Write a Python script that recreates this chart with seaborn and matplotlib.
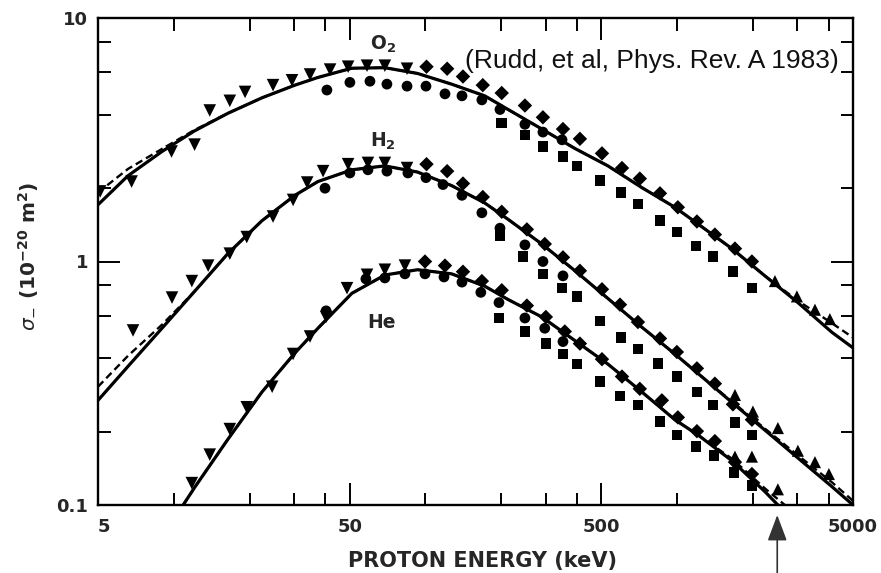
import matplotlib
matplotlib.use("Agg")
import matplotlib.pyplot as plt
import pandas as pd
import seaborn as sns
from matplotlib.ticker import FixedLocator, FixedFormatter, NullFormatter

# ---------------- data ----------------
# O2
O2_tri_E = [5.1, 6.8, 9.8, 12.1, 13.9, 16.7, 19.2, 24.8, 29.5, 34.8, 41.8, 49.3, 58.6, 69, 84.5]
O2_tri_s = [1.94, 2.13, 2.83, 3.02, 4.17, 4.57, 4.97, 5.30, 5.55, 5.86, 6.14, 6.31, 6.37, 6.37, 6.19]
O2_cir_E = [40.6, 50.1, 60.2, 70.3, 84.5, 100.5, 119.6, 139.7, 167.6, 197.8, 248.5, 293, 349]
O2_cir_s = [5.06, 5.44, 5.50, 5.35, 5.25, 5.25, 4.88, 4.79, 4.61, 4.21, 3.66, 3.40, 3.16]
O2_dia_E = [101, 122, 141, 169, 201, 248.5, 293, 352, 411, 503, 604, 711, 855, 1007, 1199, 1413, 1698, 1983]
O2_dia_s = [6.31, 6.19, 5.75, 5.30, 4.92, 4.37, 3.91, 3.50, 3.19, 2.78, 2.42, 2.19, 1.905, 1.67, 1.46, 1.29, 1.13, 1.0]
O2_sq_E = [201, 248.5, 293, 352, 400, 494, 598, 699, 855, 998, 1188, 1388, 1667, 1983]
O2_sq_s = [3.70, 3.31, 2.96, 2.70, 2.47, 2.15, 1.92, 1.72, 1.47, 1.32, 1.16, 1.05, 0.908, 0.777]
O2_up_E = [2448, 2993, 3530, 4046]
O2_up_s = [0.831, 0.719, 0.634, 0.580]

# H2
H2_tri_E = [6.89, 9.84, 11.8, 13.7, 16.7, 19.5, 24.8, 29.8, 33.9, 39.2, 49.3, 59.1, 69, 84.5]
H2_tri_s = [0.521, 0.711, 0.831, 0.962, 1.077, 1.26, 1.53, 1.79, 2.11, 2.35, 2.51, 2.54, 2.54, 2.42]
H2_cir_E = [39.9, 50.1, 59.1, 70.3, 85.2, 100.5, 117.4, 139.7, 167.6, 197.8, 248.5, 293, 352]
H2_cir_s = [2.0, 2.31, 2.38, 2.35, 2.31, 2.21, 2.07, 1.87, 1.585, 1.37, 1.17, 1.0, 0.873]
H2_dia_E = [101, 122, 141, 169, 201, 253, 298, 352, 411, 503, 593, 699, 855, 998, 1199, 1413, 1667, 1983]
H2_dia_s = [2.51, 2.35, 2.09, 1.84, 1.60, 1.355, 1.18, 1.04, 0.916, 0.769, 0.665, 0.564, 0.483, 0.425, 0.364, 0.315, 0.259, 0.224]
H2_sq_E = [197.8, 244, 293, 349, 400, 494, 598, 699, 839, 998, 1199, 1388, 1698, 1983]
H2_sq_s = [1.28, 1.047, 0.890, 0.777, 0.719, 0.569, 0.487, 0.438, 0.382, 0.337, 0.291, 0.257, 0.218, 0.194]
H2_up_E = [1698, 2001, 2515, 3020, 3530, 4010]
H2_up_s = [0.283, 0.242, 0.207, 0.167, 0.150, 0.134]

# He
He_tri_E = [11.8, 13.9, 16.7, 19.5, 24.6, 29.8, 34.8, 40.3, 48.8, 58.6, 69, 82.9]
He_tri_s = [0.123, 0.161, 0.205, 0.252, 0.306, 0.417, 0.492, 0.592, 0.777, 0.882, 0.925, 0.962]
He_cir_E = [40.3, 58.0, 69, 82.9, 99.6, 118.5, 139.7, 166, 196, 248.5, 298, 352]
He_cir_s = [0.627, 0.848, 0.856, 0.890, 0.89, 0.864, 0.823, 0.747, 0.678, 0.586, 0.532, 0.469]
He_dia_E = [99.6, 119.6, 141, 167.6, 201, 253, 301, 358, 411, 503, 604, 711, 870, 1007, 1199, 1413, 1698, 1983]
He_dia_s = [1.0, 0.962, 0.908, 0.831, 0.762, 0.659, 0.592, 0.516, 0.460, 0.397, 0.337, 0.300, 0.269, 0.229, 0.201, 0.183, 0.150, 0.134]
He_sq_E = [196, 248.5, 301, 352, 400, 494, 593, 699, 855, 998, 1188, 1400, 1683, 1983]
He_sq_s = [0.586, 0.516, 0.460, 0.417, 0.379, 0.321, 0.280, 0.257, 0.220, 0.194, 0.174, 0.160, 0.136, 0.120]
He_up_E = [1698, 1983, 2515]
He_up_s = [0.158, 0.158, 0.116]

# fitted curves (solid) and alternative fits (dashed)
O2_fit_E = [5, 6.58, 8.98, 12.1, 16.4, 22.4, 30.3, 37.4, 51, 69, 93, 127, 172, 213, 290, 393, 531, 725, 980, 1651, 2233, 3020, 4122, 5000]
O2_fit_s = [1.71, 2.25, 2.83, 3.44, 4.06, 4.70, 5.30, 5.70, 6.22, 6.25, 5.92, 5.35, 4.79, 4.21, 3.50, 2.91, 2.47, 2.01, 1.67, 1.13, 0.873, 0.678, 0.512, 0.442]
O2_dash_s = [1.92, 2.40, 2.90, 3.47, 4.06, 4.70, 5.30, 5.70, 6.22, 6.25, 5.92, 5.35, 4.79, 4.21, 3.50, 2.91, 2.47, 2.01, 1.67, 1.13, 0.873, 0.69, 0.558, 0.487]

H2_fit_E = [5, 6.58, 8.98, 12.1, 16.4, 22.4, 30.3, 37.4, 51, 69, 93, 127, 172, 213, 290, 393, 531, 725, 980, 1210, 1651, 2233, 3020, 4122, 5000]
H2_fit_s = [0.269, 0.371, 0.532, 0.754, 1.077, 1.47, 1.87, 2.13, 2.38, 2.47, 2.33, 2.05, 1.74, 1.49, 1.18, 0.916, 0.705, 0.537, 0.417, 0.347, 0.264, 0.203, 0.156, 0.119, 0.1]
H2_dash_s = [0.306, 0.41, 0.55, 0.754, 1.077, 1.47, 1.87, 2.13, 2.38, 2.47, 2.33, 2.05, 1.74, 1.49, 1.18, 0.916, 0.705, 0.537, 0.417, 0.347, 0.266, 0.206, 0.160, 0.124, 0.104]

He_fit_E = [10.9, 12.1, 16.4, 22.4, 30.3, 37.4, 51, 69, 93, 127, 172, 213, 290, 393, 531, 725, 980, 1210, 1651, 2233, 2515]
He_fit_s = [0.1, 0.118, 0.186, 0.291, 0.421, 0.532, 0.74, 0.88, 0.925, 0.89, 0.792, 0.698, 0.592, 0.473, 0.379, 0.291, 0.224, 0.194, 0.152, 0.1135, 0.1]
He_dash_E = [10.9, 12.1, 16.4, 22.4, 30.3, 37.4, 51, 69, 93, 127, 172, 213, 290, 393, 531, 725, 980, 1210, 1651, 2233, 2680]
He_dash_s = [0.1, 0.118, 0.186, 0.291, 0.421, 0.532, 0.74, 0.88, 0.925, 0.89, 0.792, 0.698, 0.592, 0.473, 0.379, 0.291, 0.224, 0.194, 0.155, 0.117, 0.1]

x_major = [5, 50, 500, 5000]
x_major_labels = ["5", "50", "500", "5000"]
x_minor = [10, 20, 30, 40, 100, 200, 300, 400, 1000, 2000, 3000, 4000]
y_major = [0.1, 1, 10]
y_major_labels = ["0.1", "1", "10"]
y_minor = [0.2, 0.4, 0.6, 0.8, 2, 4, 6, 8]

gas_labels = {"O2": r"$\mathbf{O_2}$", "H2": r"$\mathbf{H_2}$", "He": "He"}
citation = "(Rudd, et al, Phys. Rev. A 1983)"
arrow_energy = 2500

# ---------------- tables ----------------
points = {
    "O2": {"tri_down": (O2_tri_E, O2_tri_s), "circle": (O2_cir_E, O2_cir_s),
           "diamond": (O2_dia_E, O2_dia_s), "square": (O2_sq_E, O2_sq_s),
           "tri_up": (O2_up_E, O2_up_s)},
    "H2": {"tri_down": (H2_tri_E, H2_tri_s), "circle": (H2_cir_E, H2_cir_s),
           "diamond": (H2_dia_E, H2_dia_s), "square": (H2_sq_E, H2_sq_s),
           "tri_up": (H2_up_E, H2_up_s)},
    "He": {"tri_down": (He_tri_E, He_tri_s), "circle": (He_cir_E, He_cir_s),
           "diamond": (He_dia_E, He_dia_s), "square": (He_sq_E, He_sq_s),
           "tri_up": (He_up_E, He_up_s)},
}
rows = []
for gas, groups in points.items():
    for method, (E, s) in groups.items():
        for e, v in zip(E, s):
            rows.append((gas, method, e, v))
df = pd.DataFrame(rows, columns=["gas", "method", "E", "sigma"])

curves = [
    (O2_fit_E, O2_fit_s, "solid"), (O2_fit_E, O2_dash_s, "dashed"),
    (H2_fit_E, H2_fit_s, "solid"), (H2_fit_E, H2_dash_s, "dashed"),
    (He_fit_E, He_fit_s, "solid"), (He_dash_E, He_dash_s, "dashed"),
]

# ---------------- plot ----------------
sns.set_style("ticks")
plt.rcParams["font.family"] = ["DejaVu Sans"]
plt.rcParams["mathtext.fontset"] = "dejavusans"

W, H = 881, 573
fig = plt.figure(figsize=(W / 100, H / 100), dpi=100)
ax = fig.add_axes([98 / W, 1 - 505 / H, 755 / W, 487 / H])
ax.set_xscale("log")
ax.set_yscale("log")

for E, s, kind in curves:
    if kind == "solid":
        sns.lineplot(x=E, y=s, ax=ax, color="black", lw=2.3, estimator=None,
                     sort=False, zorder=2)
    else:
        sns.lineplot(x=E, y=s, ax=ax, color="black", lw=1.7, estimator=None,
                     sort=False, zorder=2, linestyle=(0, (3.2, 1.8)))

marker_map = {"tri_down": "v", "circle": "o", "diamond": "D", "square": "s", "tri_up": "^"}
size_map = {"tri_down": 82, "circle": 60, "diamond": 54, "square": 58, "tri_up": 76}
sns.scatterplot(data=df, x="E", y="sigma", style="method", size="method",
                markers=marker_map, sizes=size_map, color="black",
                edgecolor="black", linewidth=0, legend=False, ax=ax, zorder=3)

ax.set_xlim(5, 5000)
ax.set_ylim(0.1, 10)

ax.xaxis.set_major_locator(FixedLocator(x_major))
ax.xaxis.set_major_formatter(FixedFormatter(x_major_labels))
ax.xaxis.set_minor_locator(FixedLocator(x_minor))
ax.xaxis.set_minor_formatter(NullFormatter())
ax.yaxis.set_major_locator(FixedLocator(y_major))
ax.yaxis.set_major_formatter(FixedFormatter(y_major_labels))
ax.yaxis.set_minor_locator(FixedLocator(y_minor))
ax.yaxis.set_minor_formatter(NullFormatter())

ax.tick_params(which="both", direction="in", top=True, right=True, width=1.4,
               color="black")
ax.tick_params(which="major", length=16)
ax.tick_params(which="minor", length=9)
ax.tick_params(axis="x", which="major", pad=9)
ax.tick_params(axis="y", which="major", pad=7)
for lbl in ax.get_xticklabels() + ax.get_yticklabels():
    lbl.set_fontsize(13)
    lbl.set_fontweight("bold")
ax.get_xticklabels()[0].set_ha("left")

for sp in ax.spines.values():
    sp.set_linewidth(1.7)
    sp.set_color("black")

ax.set_xlabel("PROTON ENERGY (keV)", fontsize=15, fontweight="bold")
ax.xaxis.set_label_coords((483 - 98) / 755, -(551 - 505) / 487)
ax.set_ylabel(r"$\sigma_{-}$ (10$^{\mathbf{-20}}$ m$^{\mathbf{2}}$)", fontsize=14.5,
              fontweight="bold")
ax.yaxis.set_label_coords(-(98 - 41) / 755, (505 - 256) / 487)

ax.text((383 - 98) / 755, (505 - 44) / 487, gas_labels["O2"], transform=ax.transAxes,
        ha="center", va="center", fontsize=13.5, fontweight="bold")
ax.text((383 - 98) / 755, (505 - 141) / 487, gas_labels["H2"], transform=ax.transAxes,
        ha="center", va="center", fontsize=13.5, fontweight="bold")
ax.text((382 - 98) / 755, (505 - 322) / 487, gas_labels["He"], transform=ax.transAxes,
        ha="center", va="center", fontsize=13.5, fontweight="bold")

ax.text((465 - 98) / 755, (505 - 68) / 487, citation, transform=ax.transAxes,
        ha="left", va="baseline", fontsize=19, family=["Liberation Sans", "DejaVu Sans"],
        color="#111111")

ax.annotate("", xy=(arrow_energy, 1 - 515 / H), xycoords=("data", "figure fraction"),
            xytext=(arrow_energy, 0.0), textcoords=("data", "figure fraction"),
            arrowprops=dict(arrowstyle="-|>,head_length=0.8,head_width=0.3",
                            color="#333333", lw=1.2, mutation_scale=20,
                            shrinkA=0, shrinkB=0),
            annotation_clip=False)

fig.savefig("out.png", dpi=100, facecolor="white")
